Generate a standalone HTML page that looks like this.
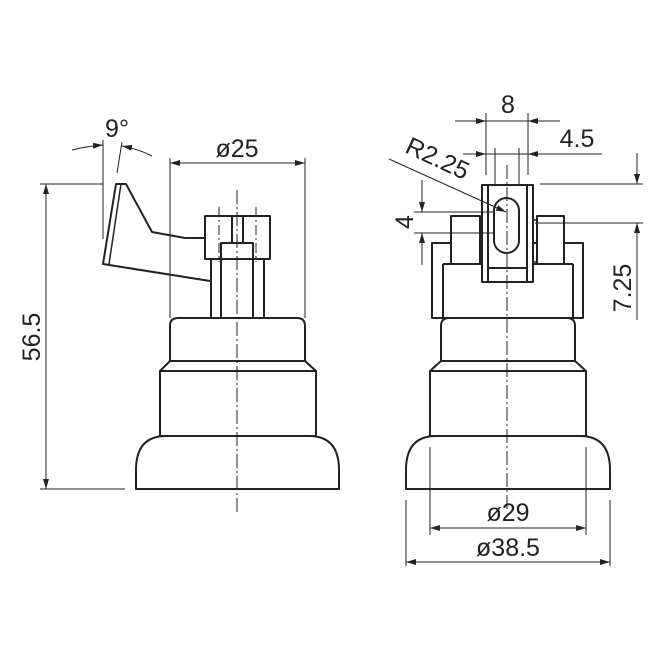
<!DOCTYPE html>
<html><head><style>html,body{margin:0;padding:0;background:#fff}</style></head><body>
<svg width="663" height="663" viewBox="0 0 663 663" xmlns="http://www.w3.org/2000/svg" font-family="Liberation Sans, sans-serif">
<defs>
<marker id="a" viewBox="0 0 10 6" refX="10" refY="3" markerWidth="10" markerHeight="6" orient="auto-start-reverse" markerUnits="userSpaceOnUse"><path d="M0,0L10,3L0,6z" fill="#222"/></marker>
</defs>
<g fill="none" stroke="#222" stroke-width="2" stroke-linejoin="round">
<path d="M170,361 V326 Q170,318 178,318 H297 Q305,318 305,326 V361 Z"/>
<path d="M170,361 L160,371 H316 L305,361"/>
<rect x="160" y="371" width="156" height="65"/>
<path d="M136,489 V470 Q136,436 166,436 H309 Q339,436 339,470 V489 Z"/>
<rect x="205" y="216" width="65" height="43"/>
<line x1="232" y1="216" x2="232" y2="243"/><line x1="243" y1="216" x2="243" y2="243"/>
<rect x="221" y="243" width="32" height="75"/>
<line x1="211" y1="259" x2="211" y2="318"/><line x1="264" y1="259" x2="264" y2="318"/>
<path d="M205,238 H185 L152,232 L126,184 H116 L103,264 L210,281"/>
<line x1="121" y1="184" x2="109" y2="264" stroke-width="1.5"/>
<path d="M441,361 V326 Q441,318 449,318 H567 Q575,318 575,326 V361 Z"/>
<path d="M441,361 L430,371 H586 L575,361"/>
<rect x="430" y="371" width="156" height="65"/>
<path d="M406,489 V470 Q406,436 436,436 H580 Q610,436 610,470 V489 Z"/>
<rect x="432" y="243" width="151" height="75"/>
<line x1="443" y1="264" x2="443" y2="318"/><line x1="573" y1="264" x2="573" y2="318"/>
<line x1="443" y1="264" x2="573" y2="264"/>
<rect x="451" y="216" width="29" height="48" fill="#fff"/>
<rect x="537" y="216" width="27" height="48" fill="#fff"/>
<rect x="480" y="220" width="4" height="42" stroke-width="1.5"/>
<rect x="533" y="220" width="4" height="42" stroke-width="1.5"/>
<rect x="482" y="185" width="51" height="97" fill="#fff"/>
<line x1="488" y1="185" x2="488" y2="282"/><line x1="527" y1="185" x2="527" y2="282"/>
<line x1="488" y1="268" x2="527" y2="268"/>
<rect x="494" y="198" width="25" height="55" rx="12.5"/>
</g>
<g stroke="#222" stroke-width="1" fill="none">
<line x1="237" y1="190" x2="237" y2="512" stroke-dasharray="14,3,2,3"/>
<line x1="507" y1="165" x2="507" y2="512" stroke-dasharray="14,3,2,3"/>
<line x1="219" y1="207" x2="219" y2="262" stroke-dasharray="10,3,2,3"/>
<line x1="256" y1="207" x2="256" y2="262" stroke-dasharray="10,3,2,3"/>
<line x1="170" y1="158" x2="170" y2="318"/><line x1="305" y1="158" x2="305" y2="318"/>
<line x1="170" y1="163" x2="305" y2="163" marker-start="url(#a)" marker-end="url(#a)"/>
<line x1="103" y1="140" x2="103" y2="239"/>
<line x1="122" y1="142" x2="117" y2="173"/>
<path d="M72,150 Q88,146 103,145" marker-end="url(#a)"/>
<path d="M152,156 Q138,149 122,146" marker-end="url(#a)"/>
<line x1="40" y1="184" x2="103" y2="184"/>
<line x1="40" y1="489" x2="125" y2="489"/>
<line x1="46" y1="184" x2="46" y2="489" marker-start="url(#a)" marker-end="url(#a)"/>
<line x1="486" y1="113" x2="486" y2="175"/><line x1="528" y1="113" x2="528" y2="175"/>
<line x1="455" y1="121" x2="486" y2="121" marker-end="url(#a)"/>
<line x1="560" y1="121" x2="528" y2="121" marker-end="url(#a)"/>
<line x1="486" y1="121" x2="528" y2="121"/>
<line x1="495" y1="148" x2="495" y2="185"/><line x1="519" y1="148" x2="519" y2="185"/>
<line x1="463" y1="154" x2="486" y2="154" marker-end="url(#a)"/>
<line x1="602" y1="154" x2="528" y2="154" marker-end="url(#a)"/>
<line x1="486" y1="154" x2="528" y2="154"/>
<line x1="389" y1="159" x2="506" y2="212" marker-end="url(#a)"/>
<line x1="414" y1="212" x2="494" y2="212"/><line x1="414" y1="233" x2="494" y2="233"/>
<line x1="422" y1="180" x2="422" y2="212" marker-end="url(#a)"/>
<line x1="422" y1="265" x2="422" y2="233" marker-end="url(#a)"/>
<line x1="540" y1="184" x2="643" y2="184"/><line x1="535" y1="223" x2="643" y2="223"/>
<line x1="637" y1="153" x2="637" y2="184" marker-end="url(#a)"/>
<line x1="637" y1="320" x2="637" y2="223" marker-end="url(#a)"/>
<line x1="430" y1="447" x2="430" y2="535"/><line x1="586" y1="447" x2="586" y2="535"/>
<line x1="430" y1="528" x2="586" y2="528" marker-start="url(#a)" marker-end="url(#a)"/>
<line x1="406" y1="500" x2="406" y2="566"/><line x1="610" y1="500" x2="610" y2="566"/>
<line x1="406" y1="562" x2="610" y2="562" marker-start="url(#a)" marker-end="url(#a)"/>
</g>
<g fill="#222" font-size="25" text-anchor="middle">
<text x="237" y="157">ø25</text>
<text x="117" y="137">9°</text>
<text x="508" y="113">8</text>
<text x="577" y="147">4.5</text>
<text x="508" y="521">ø29</text>
<text x="508" y="556">ø38.5</text>
<text transform="translate(40,337) rotate(-90)">56.5</text>
<text transform="translate(413,222) rotate(-90)">4</text>
<text transform="translate(631,288) rotate(-90)">7.25</text>
<text transform="translate(434,166) rotate(25)">R2.25</text>
</g>
</svg>
</body></html>
